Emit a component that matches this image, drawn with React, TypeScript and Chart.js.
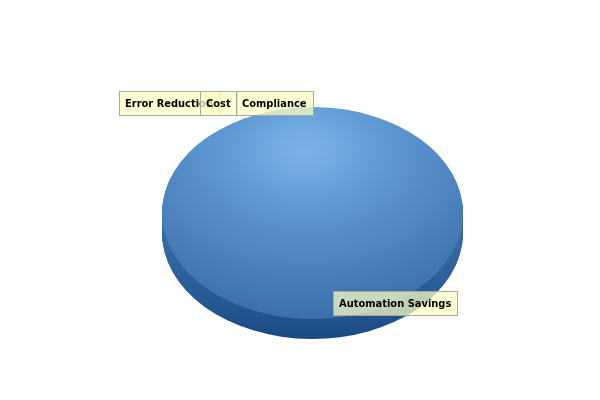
import React, { useEffect, useRef } from "react";
import { Chart, registerables } from "chart.js";

Chart.register(...registerables);

// ---- data ----
const categories = ["Automation Savings", "Error Reduction", "Cost", "Compliance"];
const values = [250000, 0, 0, 0];

// ---- look ----
const TILT = 0.704; // vertical squash of the pie
const DEPTH = 20; // thickness of the pie side, px
const ROW_OVERLAP = [19, 1]; // overlap of stacked labels for tiny slices
const FONT = 'bold 11px "DejaVu Sans Condensed", "DejaVu Sans", sans-serif';

let tiltActive = false;

const pie3d = {
  id: "pie3d",
  beforeDatasetsDraw(chart: any) {
    const ctx = chart.ctx as CanvasRenderingContext2D;
    const arcs = chart.getDatasetMeta(0).data;
    tiltActive = false;
    if (!arcs.length) return;
    const c = arcs[0].getProps(["x", "y", "outerRadius"], true);
    const ry = c.outerRadius * TILT;
    const g = ctx.createLinearGradient(0, c.y, 0, c.y + ry + DEPTH);
    g.addColorStop(0, "#3c70aa");
    g.addColorStop(0.6, "#2a5d98");
    g.addColorStop(1, "#1a4a83");
    ctx.save();
    ctx.fillStyle = g;
    for (let i = DEPTH; i >= 1; i--) {
      arcs.forEach((a: any) => {
        const p = a.getProps(["x", "y", "startAngle", "endAngle", "outerRadius"], true);
        if (p.endAngle - p.startAngle <= 0) return;
        ctx.beginPath();
        ctx.moveTo(p.x, p.y + i);
        ctx.ellipse(p.x, p.y + i, p.outerRadius, p.outerRadius * TILT, 0, p.startAngle, p.endAngle);
        ctx.closePath();
        ctx.fill();
      });
    }
    ctx.restore();
    ctx.save();
    ctx.translate(c.x, c.y);
    ctx.scale(1, TILT);
    ctx.translate(-c.x, -c.y);
    tiltActive = true;
  },
  afterDatasetsDraw(chart: any) {
    if (tiltActive) chart.ctx.restore();
    tiltActive = false;
  },
  afterDraw(chart: any) {
    const ctx = chart.ctx as CanvasRenderingContext2D;
    const meta = chart.getDatasetMeta(0);
    ctx.save();
    ctx.font = FONT;
    const boxH = 24;
    const drawBox = (left: number, top: number, w: number, text: string) => {
      const l = Math.round(left) + 0.5;
      const t = Math.round(top) + 0.5;
      ctx.fillStyle = "rgba(255,255,196,0.72)";
      ctx.fillRect(l, t, w, boxH);
      ctx.strokeStyle = "#a8a8a0";
      ctx.lineWidth = 1;
      ctx.strokeRect(l, t, w, boxH);
      ctx.fillStyle = "#000";
      ctx.textBaseline = "middle";
      ctx.textAlign = "left";
      ctx.fillText(text, l + 5.5, t + boxH / 2 + 0.5);
    };
    const small: { text: string; w: number; p: any }[] = [];
    const big: { text: string; w: number; p: any }[] = [];
    meta.data.forEach((a: any, i: number) => {
      const p = a.getProps(["x", "y", "startAngle", "endAngle", "outerRadius"], true);
      const text = categories[i];
      const w = Math.round(ctx.measureText(text).width) + 12;
      if (p.endAngle - p.startAngle > 0.3) big.push({ text, w, p });
      else small.push({ text, w, p });
    });
    // tiny slices: a row above the top of the pie, ending at the centre
    if (small.length) {
      const p0 = small[0].p;
      const top = p0.y - p0.outerRadius * TILT - 16;
      const lefts: number[] = new Array(small.length);
      let right = p0.x;
      for (let i = small.length - 1; i >= 0; i--) {
        lefts[i] = right - small[i].w;
        const ov = ROW_OVERLAP[i - 1] ?? 5;
        right = lefts[i] + ov;
      }
      small.forEach((s, i) => drawBox(lefts[i], top, s.w, s.text));
    }
    big.forEach((b) => {
      const mid = (b.p.startAngle + b.p.endAngle) / 2;
      const bx = b.p.x + Math.cos(mid) * b.p.outerRadius * 0.75;
      const by = b.p.y + Math.sin(mid) * b.p.outerRadius * TILT * 0.75;
      drawBox(bx, by, b.w, b.text);
    });
    ctx.restore();
  },
};

export default function App() {
  const ref = useRef<HTMLCanvasElement | null>(null);
  useEffect(() => {
    if (!ref.current) return;
    const chart = new Chart(ref.current, {
      type: "pie",
      data: {
        labels: categories,
        datasets: [
          {
            data: values,
            borderWidth: 0,
            clip: false as any,
            backgroundColor: (c: any) => {
              const ch = c.chart;
              const a = ch.chartArea;
              if (!a) return "#5a90cc";
              const cx = (a.left + a.right) / 2;
              const cy = (a.top + a.bottom) / 2;
              const gx = cx - 8;
              const gy = cy - 89;
              const g = ch.ctx.createRadialGradient(gx, gy, 0, gx, gy, 245);
              g.addColorStop(0, "#7cb4ea");
              g.addColorStop(0.35, "#5f97d2");
              g.addColorStop(0.7, "#4a80bb");
              g.addColorStop(1, "#3a6ea8");
              return g;
            },
          },
        ],
      },
      options: {
        animation: false,
        responsive: true,
        maintainAspectRatio: false,
        rotation: -10.5,
        radius: 150.5,
        layout: { padding: { left: 25, top: 26 } },
        plugins: { legend: { display: false }, tooltip: { enabled: false } },
        events: [],
      } as any,
      plugins: [pie3d],
    });
    return () => chart.destroy();
  }, []);
  return (
    <div style={{ position: "absolute", left: 0, top: 0, width: 600, height: 400, background: "#fff" }}>
      <canvas ref={ref} />
    </div>
  );
}
